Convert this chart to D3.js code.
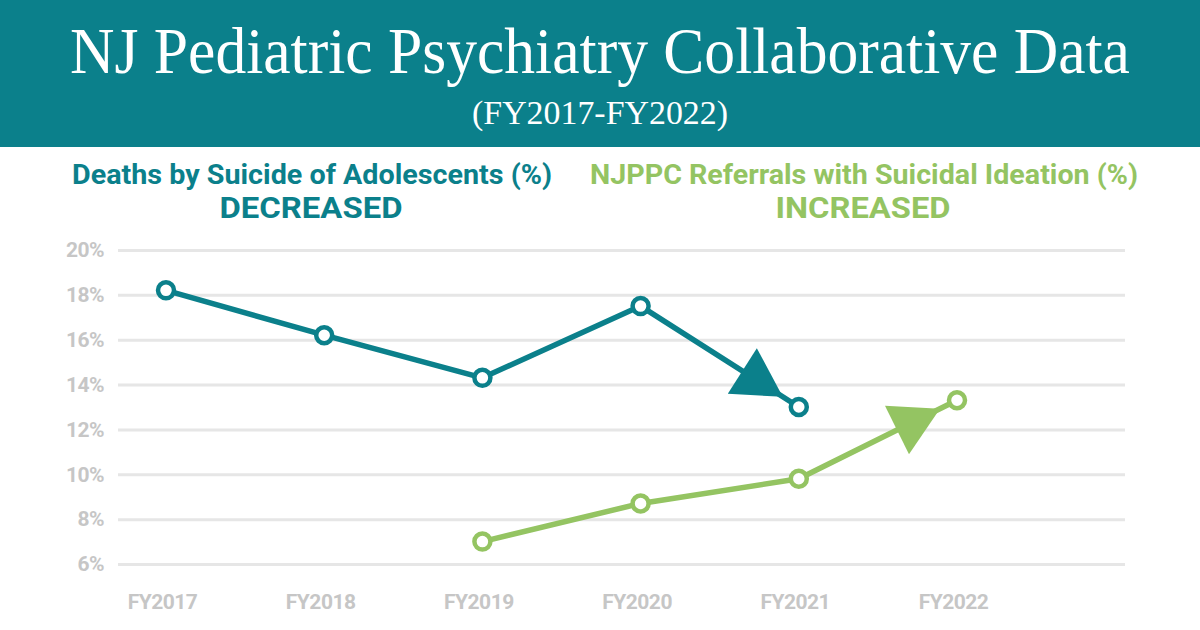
<!DOCTYPE html>
<html>
<head>
    <meta charset="utf-8"/>
    <title>NJ Pediatric Psychiatry Collaborative Data</title>
    <script src="https://d3js.org/d3.v7.min.js"></script>
    <style>
        body { margin: 0; background: #fff; }
        svg text { font-family: Roboto, "Noto Sans", sans-serif; }
    </style>
</head>
<body>
<svg id="chart" width="1200" height="630"></svg>
<script type="text/javascript">

    // data
    var years = ["FY2017", "FY2018", "FY2019", "FY2020", "FY2021", "FY2022"];
    var suicideDeaths = [18.2, 16.2, 14.3, 17.5, 13.0, null];
    var ideationReferrals = [null, null, 7.0, 8.7, 9.8, 13.3];
    var yTicks = [6, 8, 10, 12, 14, 16, 18, 20];

    var teal = "#0b808b";
    var green = "#94c462";
    var grey = "#c6c6c6";

    var svg = d3.select("#chart");

    // header band
    svg.append("rect")
            .attr("x", 0).attr("y", 0)
            .attr("width", 1200).attr("height", 147)
            .attr("fill", teal);

    // serif title, squeezed a little to the reference width
    var title = svg.append("text")
            .attr("x", 0).attr("y", 73)
            .attr("text-anchor", "middle")
            .attr("fill", "white")
            .style("font-family", "'Liberation Serif', 'DejaVu Serif', serif")
            .style("font-size", "66px")
            .text("NJ Pediatric Psychiatry Collaborative Data");
    var tw = title.node().getComputedTextLength();
    title.attr("transform", "translate(600,0) scale(" + Math.min(1, 1060 / tw) + ",1)");

    var sub = svg.append("text")
            .attr("x", 0).attr("y", 124)
            .attr("text-anchor", "middle")
            .attr("fill", "white")
            .style("font-family", "'Liberation Serif', 'DejaVu Serif', serif")
            .style("font-size", "34px")
            .text("(FY2017-FY2022)");
    var sw = sub.node().getComputedTextLength();
    sub.attr("transform", "translate(600,0) scale(" + (256 / sw) + ",1)");

    // series headings
    var headings = [
        {text: "Deaths by Suicide of Adolescents (%)", x: 312, y: 184, w: 480, size: 27, color: teal},
        {text: "DECREASED", x: 311, y: 218, w: 183, size: 30, color: teal},
        {text: "NJPPC Referrals with Suicidal Ideation (%)", x: 864, y: 184, w: 548, size: 27, color: green},
        {text: "INCREASED", x: 863, y: 218, w: 175, size: 30, color: green}
    ];
    headings.forEach(function (h) {
        svg.append("text")
                .attr("x", h.x).attr("y", h.y)
                .attr("text-anchor", "middle")
                .attr("fill", h.color)
                .attr("textLength", h.w)
                .attr("lengthAdjust", "spacingAndGlyphs")
                .style("font-weight", 700)
                .style("font-size", h.size + "px")
                .text(h.text);
    });

    // scales
    var x = d3.scalePoint().domain(years).range([166, 957]);
    var y = d3.scaleLinear().domain([6, 20]).range([564, 250]);

    // grid + y labels
    var yAxis = svg.append("g")
            .attr("transform", "translate(118,0)")
            .call(d3.axisLeft(y).tickValues(yTicks)
                    .tickSize(-1007)
                    .tickPadding(14)
                    .tickFormat(function (d) { return d + "%"; }));
    yAxis.select(".domain").remove();
    yAxis.selectAll(".tick line").attr("stroke", "#e6e6e6").attr("stroke-width", 3);
    yAxis.selectAll(".tick text")
            .attr("fill", grey)
            .style("font-family", "Roboto, sans-serif")
            .style("font-weight", 700)
            .style("font-size", "21px")
            .style("letter-spacing", "-0.5px");

    // x labels
    var xAxis = svg.append("g")
            .attr("transform", "translate(-4,591)")
            .call(d3.axisBottom(x).tickSize(0).tickPadding(0));
    xAxis.select(".domain").remove();
    xAxis.selectAll(".tick text")
            .attr("fill", grey)
            .attr("dy", "0.85em")
            .style("font-family", "Roboto, sans-serif")
            .style("font-weight", 700)
            .style("font-size", "21px")
            .style("letter-spacing", "-0.5px");

    // lines with arrows on the last segment
    function drawSeries(values, color) {
        var pts = years.map(function (d, i) { return {year: d, v: values[i]}; })
                .filter(function (d) { return d.v !== null; });

        svg.append("path")
                .datum(pts)
                .attr("fill", "none")
                .attr("stroke", color)
                .attr("stroke-width", 5.5)
                .attr("stroke-linejoin", "round")
                .attr("d", d3.line()
                        .x(function (d) { return x(d.year); })
                        .y(function (d) { return y(d.v); }));

        var a = pts[pts.length - 2], b = pts[pts.length - 1];
        var x0 = x(a.year), y0 = y(a.v), x1 = x(b.year), y1 = y(b.v);
        var len = Math.sqrt((x1 - x0) * (x1 - x0) + (y1 - y0) * (y1 - y0));
        var ux = (x1 - x0) / len, uy = (y1 - y0) / len;
        var tipX = x1 - ux * 19, tipY = y1 - uy * 19;
        var baseX = tipX - ux * 48, baseY = tipY - uy * 48;
        var half = 27;
        svg.append("path")
                .attr("fill", color)
                .attr("d", "M" + tipX + "," + tipY +
                        "L" + (baseX - uy * half) + "," + (baseY + ux * half) +
                        "L" + (baseX + uy * half) + "," + (baseY - ux * half) + "Z");

        svg.selectAll(null)
                .data(pts)
                .enter()
                .append("circle")
                .attr("cx", function (d) { return x(d.year); })
                .attr("cy", function (d) { return y(d.v); })
                .attr("r", 8)
                .attr("fill", "white")
                .attr("stroke", color)
                .attr("stroke-width", 4.5);
    }

    drawSeries(suicideDeaths, teal);
    drawSeries(ideationReferrals, green);
</script>
</body>
</html>
